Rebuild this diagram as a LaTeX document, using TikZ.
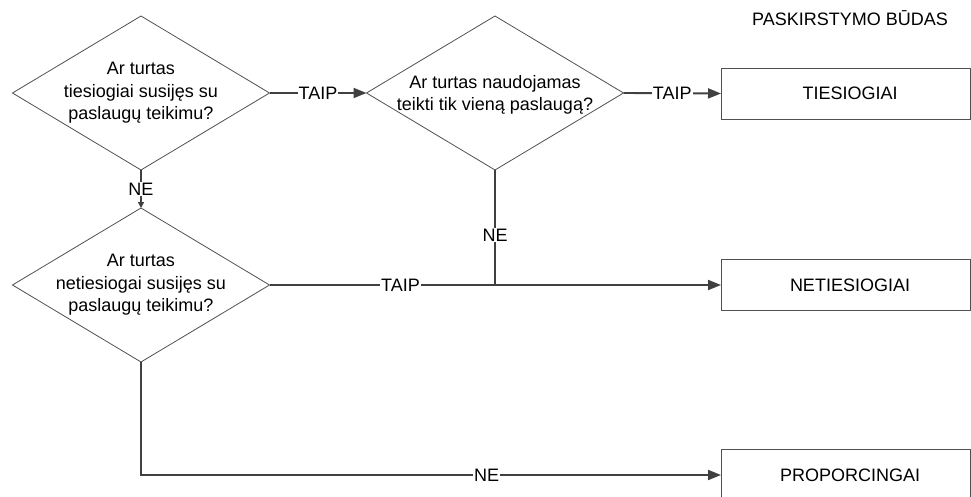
\documentclass[tikz,border=0pt]{standalone}
\usepackage{fontspec}
\setmainfont{Liberation Sans}
\usetikzlibrary{shapes.geometric,arrows.meta}
\definecolor{lineC}{HTML}{404040}
\definecolor{edgeC}{HTML}{505050}
\tikzset{
  dia/.style={diamond,draw=edgeC,line width=0.8pt,minimum width=257pt,minimum height=154pt,inner sep=0pt,outer sep=0pt},
  dtext/.style={align=center,font=\fontsize{18pt}{22.5pt}\selectfont,inner sep=0pt},
  resbox/.style={draw=edgeC,line width=0.8pt,minimum width=249pt,minimum height=51pt,inner sep=0pt,outer sep=0pt,font=\fontsize{18pt}{22pt}\selectfont},
  conn/.style={draw=lineC,line width=1.9pt,-{Triangle[length=13pt,width=10pt]}},
  connsmall/.style={draw=lineC,line width=1.9pt,-{Triangle[length=6pt,width=6pt]}},
  plain/.style={draw=lineC,line width=1.9pt},
  lbl/.style={fill=white,inner sep=1pt,font=\fontsize{18pt}{22pt}\selectfont}
}
\begin{document}
\begin{tikzpicture}[x=1pt,y=-1pt]
\useasboundingbox (0,0) rectangle (971,497);
% title
\node[font=\fontsize{18pt}{22pt}\selectfont] (title) at (850,18) {PASKIRSTYMO BŪDAS};
% decisions
\node[dia] (d1) at (141,93) {};
\node[dtext] (d1t) at (d1.center) {Ar turtas\\tiesiogiai susijęs su\\paslaugų teikimu?};
\node[dia] (d2) at (495,93) {};
\node[dtext] (d2t) at ([yshift=-2pt]d2.center) {Ar turtas naudojamas\\teikti tik vieną paslaugą?};
\node[dia] (d3) at (141,285) {};
\node[dtext] (d3t) at (d3.center) {Ar turtas\\netiesiogai susijęs su\\paslaugų teikimu?};
% results
\node[resbox] (b1) at (845.5,93.5) {};
\node[dtext] (b1t) at (850,93.5) {TIESIOGIAI};
\node[resbox] (b2) at (845.5,285) {};
\node[dtext] (b2t) at (850,285) {NETIESIOGIAI};
\node[resbox,minimum height=58pt] (b3) at (845.5,478) {};
\node[dtext] (b3t) at (850,475) {PROPORCINGAI};
% junction
\coordinate (j) at (d2.south |- b2.west);
\coordinate (b3in) at (b3.west |- b3t);
% connectors
\draw[conn] (d1.east) -- node[lbl] {TAIP} (d2.west);
\draw[conn] (d2.east) -- node[lbl] {TAIP} (b1.west);
\draw[connsmall] (d1.south) -- node[lbl] {NE} (d3.north);
\draw[plain] (d2.south) -- node[lbl,pos=0.565] {NE} (j);
\draw[conn] (d3.east) -- node[lbl,pos=0.29] {TAIP} (b2.west);
\draw[conn] (d3.south) |- node[lbl,pos=0.798] {NE} (b3in);
\end{tikzpicture}
\end{document}
